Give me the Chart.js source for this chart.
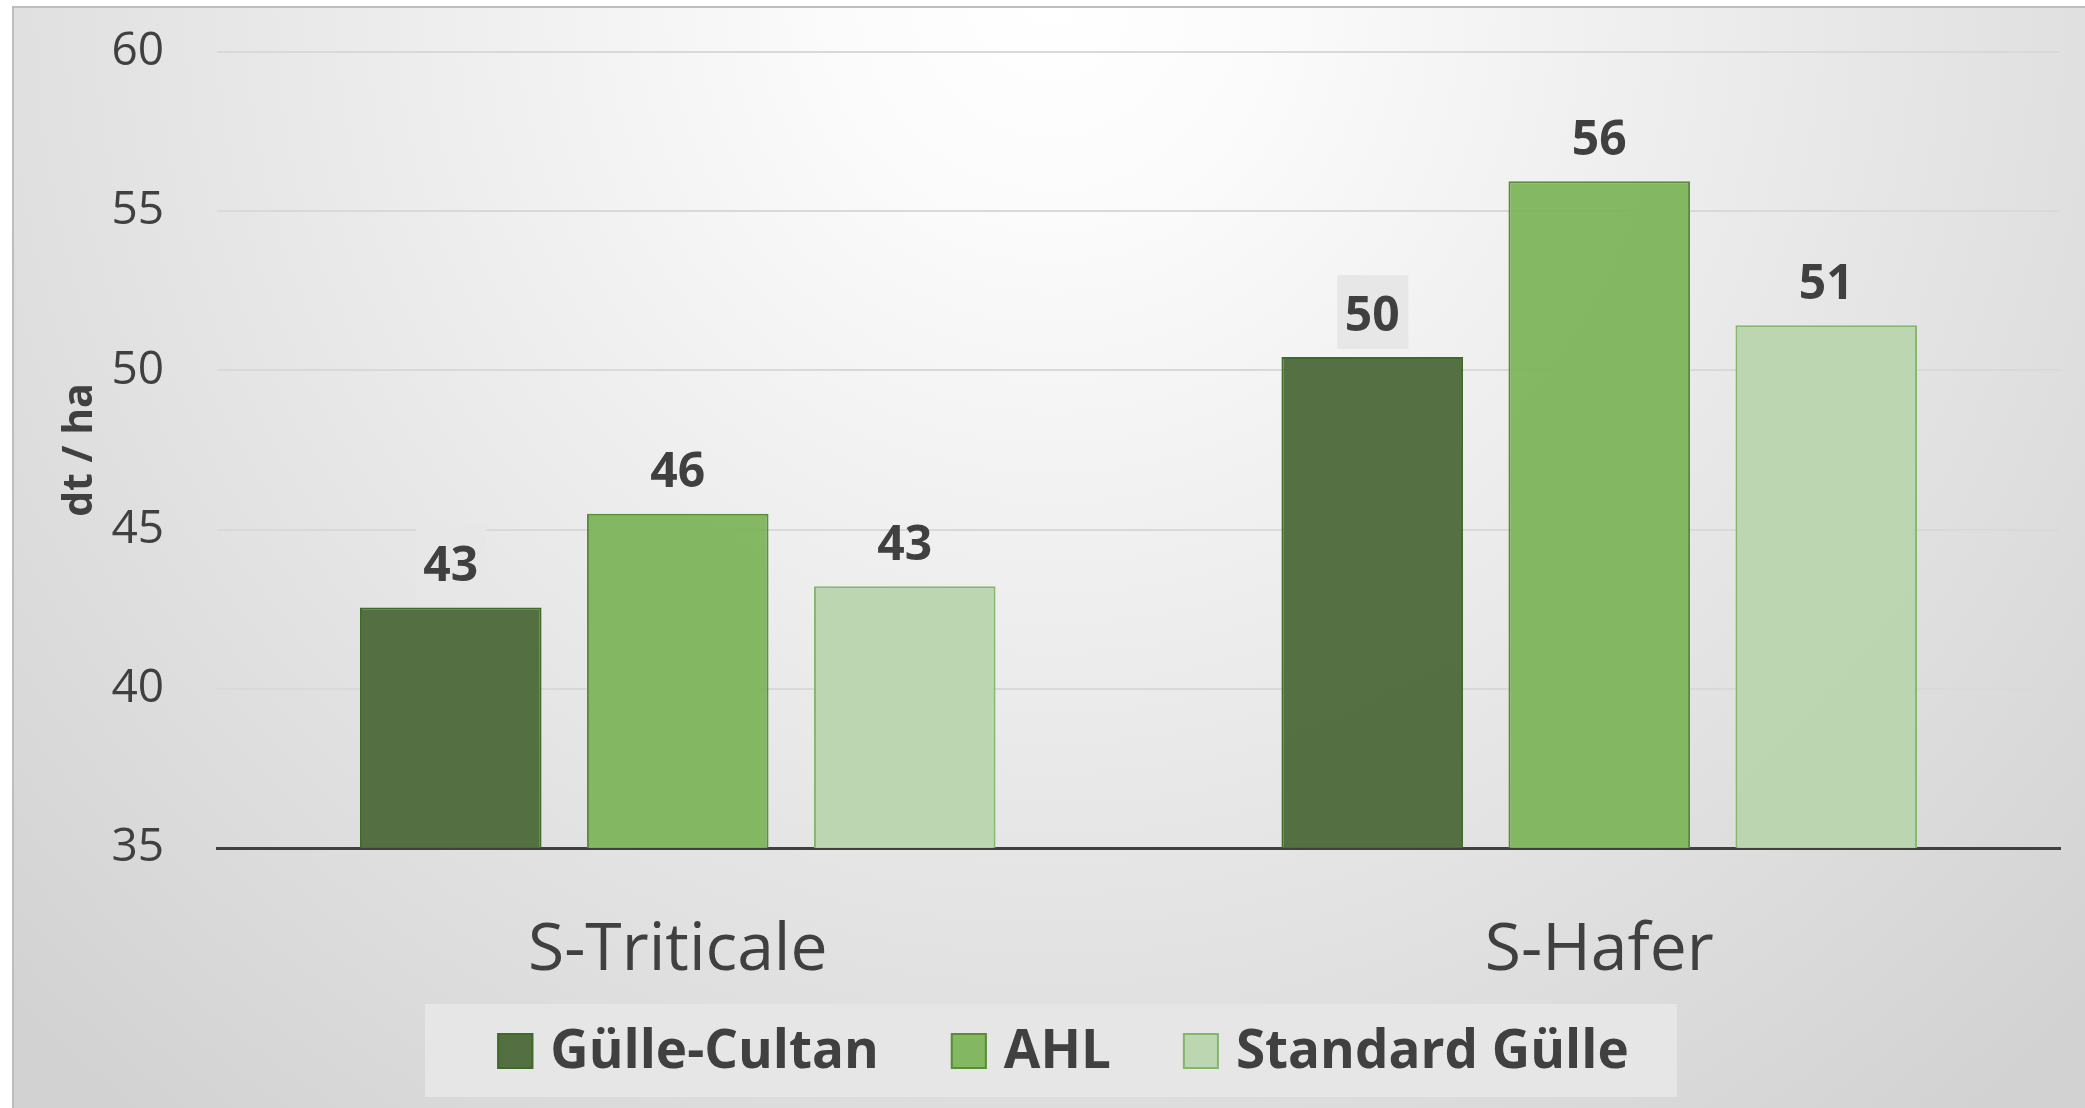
<!DOCTYPE html>
<html>
<head>
<meta charset="utf-8">
<script src="https://cdn.jsdelivr.net/npm/chart.js@4/dist/chart.umd.min.js"></script>
<style>
html,body{margin:0;padding:0;background:#fff;}
canvas{display:block;}
</style>
</head>
<body>
<canvas id="c" width="2085" height="1108"></canvas>
<script>
// ---- data ----
const categories = ['S-Triticale', 'S-Hafer'];
const seriesNames = ['Gülle-Cultan', 'AHL', 'Standard Gülle'];
const gulleCultan = [42.55, 50.42];
const ahl = [45.5, 55.94];
const standardGulle = [43.22, 51.42];
const yTicks = [35, 40, 45, 50, 55, 60];
const yTitle = 'dt / ha';

const fills = ['rgba(78,107,59,0.96)', 'rgba(126,180,90,0.95)', 'rgba(186,212,174,0.94)'];
const borders = ['#3f6a28', '#588e38', '#84b76c'];
const TEXT = '#404040';
const FONT = "'Open Sans', 'Noto Sans', sans-serif";

const bgPlugin = {
  id: 'bg',
  beforeDraw(chart) {
    const ctx = chart.ctx;
    const W = chart.width, H = chart.height;
    ctx.save();
    ctx.fillStyle = '#ffffff';
    ctx.fillRect(0, 0, W, H);
    const g = ctx.createRadialGradient(1050, 0, 0, 1050, 0, 1450);
    g.addColorStop(0, '#ffffff');
    g.addColorStop(0.15, '#fbfbfb');
    g.addColorStop(1, '#d2d2d2');
    ctx.fillStyle = g;
    ctx.fillRect(12, 6, W - 12, H - 6);
    ctx.strokeStyle = '#bdbdbd';
    ctx.lineWidth = 2;
    ctx.beginPath();
    ctx.moveTo(13, H);
    ctx.lineTo(13, 7);
    ctx.lineTo(W, 7);
    ctx.stroke();
    ctx.restore();
  }
};

const labelPlugin = {
  id: 'valLabels',
  afterDatasetsDraw(chart) {
    const ctx = chart.ctx;
    ctx.save();
    ctx.font = "bold 48px " + FONT;
    ctx.textAlign = 'center';
    ctx.textBaseline = 'middle';
    chart.data.datasets.forEach((ds, di) => {
      const meta = chart.getDatasetMeta(di);
      meta.data.forEach((bar, i) => {
        const v = ds.data[i];
        const txt = String(Math.round(v));
        const cy = bar.y - 45;
        if (di === 0) {
          ctx.fillStyle = '#e7e7e7';
          ctx.fillRect(bar.x - 35, cy - 37, 71, 74);
        }
        ctx.fillStyle = TEXT;
        ctx.fillText(txt, bar.x, cy + 5);
      });
    });
    ctx.restore();
  }
};

const legendPlugin = {
  id: 'customLegend',
  afterDraw(chart) {
    const ctx = chart.ctx;
    ctx.save();
    ctx.font = "bold 53px " + FONT;
    const sw = 36, gapT = 17, gapI = 72;
    const items = chart.data.datasets.map((ds, i) => ({
      label: ds.label, fill: ds.backgroundColor, border: ds.borderColor,
      w: ctx.measureText(ds.label).width
    }));
    let total = 0;
    items.forEach((it, i) => { total += sw + gapT + it.w + (i < items.length - 1 ? gapI : 0); });
    const cx = 1063;
    const cy = 1051;
    ctx.fillStyle = '#e6e6e6';
    ctx.fillRect(425, 1004, 1252, 93);
    let x = cx - total / 2;
    ctx.textBaseline = 'middle';
    ctx.textAlign = 'left';
    items.forEach((it) => {
      ctx.fillStyle = it.fill;
      ctx.fillRect(x, cy - sw / 2, sw, sw);
      ctx.strokeStyle = it.border;
      ctx.lineWidth = 2;
      ctx.strokeRect(x + 1, cy - sw / 2 + 1, sw - 2, sw - 2);
      ctx.fillStyle = TEXT;
      ctx.fillText(it.label, x + sw + gapT, cy + 2);
      x += sw + gapT + it.w + gapI;
    });
    ctx.restore();
  }
};

const seriesData = [gulleCultan, ahl, standardGulle];

new Chart(document.getElementById('c'), {
  type: 'bar',
  data: {
    labels: categories,
    datasets: seriesNames.map((name, i) => ({
      label: name,
      data: seriesData[i],
      backgroundColor: fills[i],
      borderColor: borders[i],
      borderWidth: 2,
      categoryPercentage: 0.739,
      barPercentage: 0.80
    }))
  },
  options: {
    responsive: false,
    animation: false,
    devicePixelRatio: 1,
    layout: { padding: { top: 52, right: 25, left: 0, bottom: 0 } },
    plugins: {
      legend: { display: false },
      tooltip: { enabled: false },
      title: { display: false }
    },
    scales: {
      x: {
        grid: { display: false, drawTicks: false },
        border: { display: true, color: '#404040', width: 3 },
        ticks: {
          color: TEXT,
          font: { family: FONT, size: 66 },
          padding: 64
        },
        afterFit(scale) { scale.height = 260; }
      },
      y: {
        min: 35,
        max: 60,
        afterBuildTicks(scale) { scale.ticks = yTicks.map(v => ({ value: v })); },
        grid: { color: '#d9d9d9', lineWidth: 2, drawTicks: false },
        border: { display: false },
        ticks: {
          color: TEXT,
          font: { family: FONT, size: 46 },
          padding: 53
        },
        title: {
          display: true,
          text: yTitle,
          color: TEXT,
          font: { family: FONT, size: 41, weight: 'bold' },
          padding: { top: 56, bottom: 0 }
        },
        afterFit(scale) {
          scale.width = 217;
          scale.paddingTop = 0;
          scale.paddingBottom = 0;
        }
      }
    }
  },
  plugins: [bgPlugin, labelPlugin, legendPlugin]
});
</script>
</body>
</html>
